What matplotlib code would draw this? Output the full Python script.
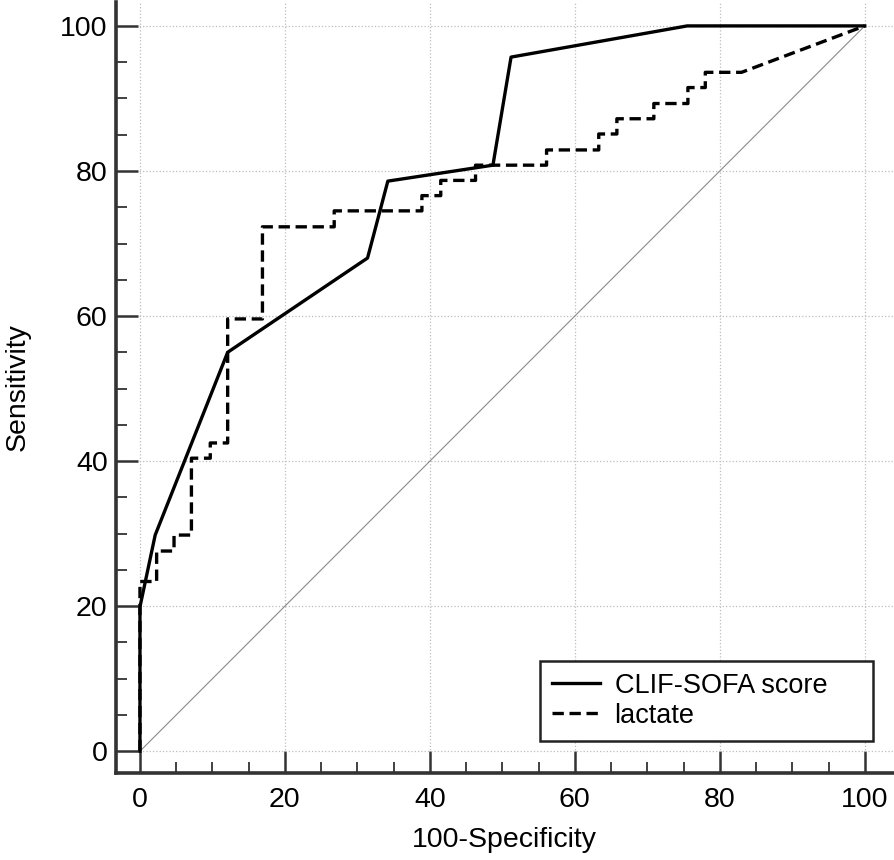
import matplotlib
matplotlib.use("Agg")
import matplotlib.pyplot as plt
from matplotlib.ticker import MultipleLocator

plt.rcParams['font.family'] = ['Liberation Sans', 'DejaVu Sans']

# ROC curve points (100-Specificity, Sensitivity)
clif_x = [0, 0, 2.1, 12.1, 31.4, 34.2, 48.7, 51.2, 75.5, 100]
clif_y = [0, 19.9, 29.8, 55.0, 68.0, 78.6, 80.8, 95.7, 100, 100]

# lactate: step corners, last segment straight to (100, 100)
lact_x = [0, 0, 2.3, 2.3, 4.7, 4.7, 7.1, 7.1, 9.7, 9.7, 12.1, 12.1, 16.9, 16.9,
          26.8, 26.8, 38.9, 38.9, 41.5, 41.5, 46.3, 46.3, 56.1, 56.1, 63.3, 63.3,
          65.8, 65.8, 70.9, 70.9, 75.6, 75.6, 78.0, 78.0, 83.0, 100]
lact_y = [0, 23.4, 23.4, 27.6, 27.6, 29.8, 29.8, 40.4, 40.4, 42.5, 42.5, 59.6, 59.6, 72.3,
          72.3, 74.5, 74.5, 76.6, 76.6, 78.7, 78.7, 80.8, 80.8, 82.9, 82.9, 85.1,
          85.1, 87.2, 87.2, 89.3, 89.3, 91.5, 91.5, 93.6, 93.6, 100]

ref_line = [0, 100]

fs = 20.5

fig = plt.figure(figsize=(8.94, 8.6), dpi=100)
ax = fig.add_axes([0.1298, 0.1012, 0.8691, 0.8965])

ax.plot(ref_line, ref_line, color='#8a8a8a', lw=0.8, zorder=2)
ax.plot(clif_x, clif_y, color='black', lw=2.4, label='CLIF-SOFA score', zorder=4)
ax.plot(lact_x, lact_y, color='black', lw=2.4, dashes=(3.4, 1.7),
        label='lactate', zorder=3)

ax.set_xlim(-3.3, 103.9)
ax.set_ylim(-3.0, 103.3)
ax.set_xticks([0, 20, 40, 60, 80, 100])
ax.set_yticks([0, 20, 40, 60, 80, 100])
ax.xaxis.set_minor_locator(MultipleLocator(5))
ax.yaxis.set_minor_locator(MultipleLocator(5))

ax.grid(True, which='major', color='#bdbdbd', ls=':', lw=0.9)
ax.set_axisbelow(True)

for s in ['top', 'right']:
    ax.spines[s].set_visible(False)
for s in ['left', 'bottom']:
    ax.spines[s].set_linewidth(2.6)
    ax.spines[s].set_color('#333333')

ax.tick_params(which='major', direction='in', length=15.5, width=1.8,
               color='#333333', labelsize=fs, pad=6)
ax.tick_params(which='minor', direction='in', length=8, width=1.3, color='#333333')
ax.tick_params(axis='x', which='major', pad=10)

ax.set_xlabel('100-Specificity', fontsize=fs, labelpad=10)
ax.set_ylabel('Sensitivity', fontsize=fs, labelpad=21)

leg = ax.legend(loc='lower left', bbox_to_anchor=(0.5457, 0.0415, 0.4283, 0.11),
                mode='expand', borderaxespad=0,
                fontsize=19.5, fancybox=False, framealpha=1, edgecolor='#222222',
                handlelength=1.75, handletextpad=0.55, borderpad=0.45,
                labelspacing=0.15)
leg.get_frame().set_linewidth(1.8)

fig.savefig('out.png', dpi=100)
